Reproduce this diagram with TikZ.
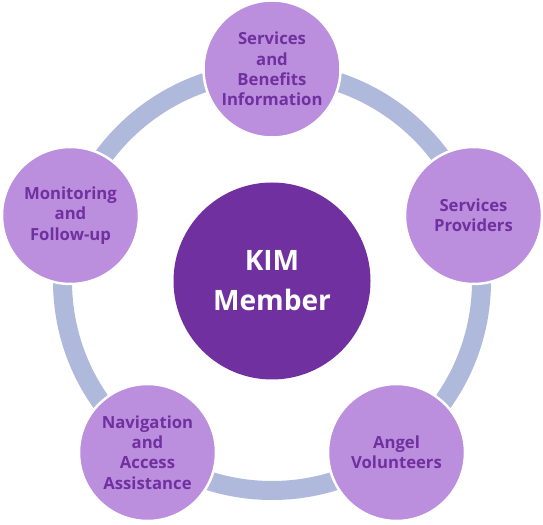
\documentclass[tikz,border=0pt]{standalone}
\usepackage{fontspec}
\setmainfont{Open Sans}
\definecolor{ringblue}{HTML}{AEB9DB}
\definecolor{lightpurple}{HTML}{BB8FDD}
\definecolor{darkpurple}{HTML}{7030A0}
\tikzset{
  outercircle/.style={circle, fill=lightpurple, draw=white, line width=0.05cm,
    minimum size=2.74cm, inner sep=0pt, align=center, text=darkpurple,
    font=\fontsize{9.5}{11.6}\selectfont\bfseries},
  membercircle/.style={circle, fill=darkpurple, minimum size=3.94cm, inner sep=0pt,
    align=center, text=white, font=\fontsize{16}{22.8}\selectfont\bfseries}
}
\begin{document}
\begin{tikzpicture}
% Fix the page size
\useasboundingbox (0,0) rectangle (10.86,10.48);

% The ring behind the circles
\coordinate (mid) at (5.44,4.86);
\draw[ringblue, line width=0.38cm] (mid) circle (4.19);

% Center
\node[membercircle] (member) at (5.44,4.86) {KIM\\Member};

% The five circles on the ring
\node[outercircle] (info) at (5.44,9.10) {Services\\and\\Benefits\\Information};
\node[outercircle] (providers) at (9.47,6.17) {Services\\Providers};
\node[outercircle] (angels) at (7.93,1.43) {Angel\\Volunteers};
\node[outercircle] (navigation) at (2.95,1.43) {Navigation\\and\\Access\\Assistance};
\node[outercircle] (monitoring) at (1.41,6.17) {Monitoring\\and\\Follow-up};
\end{tikzpicture}
\end{document}
